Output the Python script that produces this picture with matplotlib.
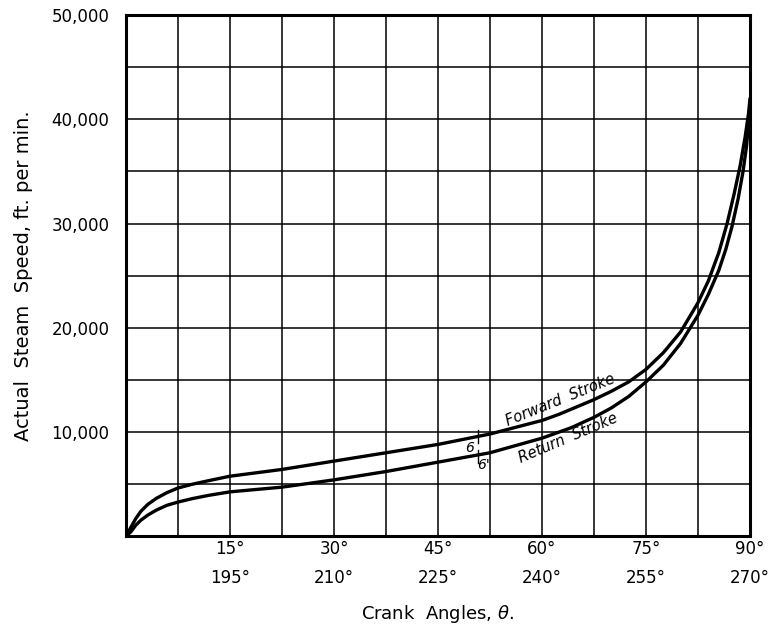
import numpy as np
import matplotlib.pyplot as plt

# crank angle (deg) and steam speed (ft/min)
ang_fwd = [0, 0.7, 1.43, 2.17, 3.15, 4.39, 5.87, 7.5, 9.5, 11.9, 15, 22.5, 30,
           37.5, 45, 52.5, 60, 62.5, 65, 67.5, 70, 72.5, 75, 77.5, 80, 82.5,
           84, 85.5, 86.7, 87.7, 88.6, 89.3, 89.8, 90]
speed_fwd = [0, 840, 1700, 2400, 3050, 3630, 4160, 4620, 4970, 5320, 5750, 6400,
             7200, 8000, 8800, 9800, 11100, 11700, 12400, 13100, 13900, 14800,
             16000, 17600, 19600, 22400, 24500, 27200, 30000, 32800, 35600, 38300,
             40600, 42000]

ang_ret = [0, 0.7, 1.43, 2.17, 3.15, 4.39, 5.87, 7.5, 9.5, 11.9, 15, 22.5, 30,
           37.5, 45, 52.5, 60, 64.2, 67.5, 70, 72.5, 75, 77.5, 80, 82.5, 84,
           85.5, 86.5, 87.4, 88.3, 89.0, 89.5, 89.85, 90]
speed_ret = [0, 410, 1060, 1540, 2020, 2500, 2950, 3270, 3590, 3910, 4250, 4700,
             5400, 6200, 7100, 8000, 9400, 10400, 11400, 12300, 13400, 14800,
             16400, 18500, 21200, 23200, 25500, 27500, 29700, 32400, 35000, 37400,
             40000, 41500]

xgrid = np.arange(0, 91, 7.5)
xlabels = ['', '', '15°\n195°', '', '30°\n210°', '', '45°\n225°', '',
           '60°\n240°', '', '75°\n255°', '', '90°\n270°']
ygrid = np.arange(0, 50001, 5000)
ylabels = ['', '', '10,000', '', '20,000', '', '30,000', '', '40,000', '', '50,000']

fig = plt.figure(figsize=(7.8, 6.3), dpi=100)
ax = fig.add_axes([0.1615, 0.149, 0.8, 0.827])

ax.plot(ang_fwd, speed_fwd, color='black', lw=2.4, solid_capstyle='round',
        solid_joinstyle='round', zorder=3)
ax.plot(ang_ret, speed_ret, color='black', lw=2.4, solid_capstyle='round',
        solid_joinstyle='round', zorder=3)

ax.set_xlim(0, 90)
ax.set_ylim(0, 50000)
ax.set_xticks(xgrid)
ax.set_xticklabels(xlabels, fontsize=12, linespacing=1.75)
ax.set_yticks(ygrid)
ax.set_yticklabels(ylabels, fontsize=12)
ax.tick_params(axis='x', length=0, pad=3)
ax.tick_params(axis='y', length=0, pad=12)
ax.grid(True, color='black', lw=1.1)
for s in ax.spines.values():
    s.set_linewidth(2.2)

ax.set_ylabel('Actual  Steam  Speed, ft. per min.', fontsize=14, labelpad=13)
ax.set_xlabel(r'Crank  Angles, $\mathit{\theta}$.', fontsize=13, labelpad=12)

# curve labels
ax.text(62.6, 13100, 'Forward  Stroke', rotation=22, fontsize=10.5, style='italic',
        ha='center', va='center')
ax.text(63.8, 9450, 'Return  Stroke', rotation=23, fontsize=10.5, style='italic',
        ha='center', va='center')

# small marks at the 6 in. points
mark_x = 50.8
ax.plot([mark_x, mark_x], [8900, 10200], color='black', lw=1)
ax.plot([mark_x, mark_x], [7000, 8300], color='black', lw=1)
ax.text(49.6, 8500, '6', fontsize=10, style='italic', ha='center', va='center')
ax.text(51.6, 6800, "6'", fontsize=10, style='italic', ha='center', va='center')

fig.savefig('out.png', dpi=100)
